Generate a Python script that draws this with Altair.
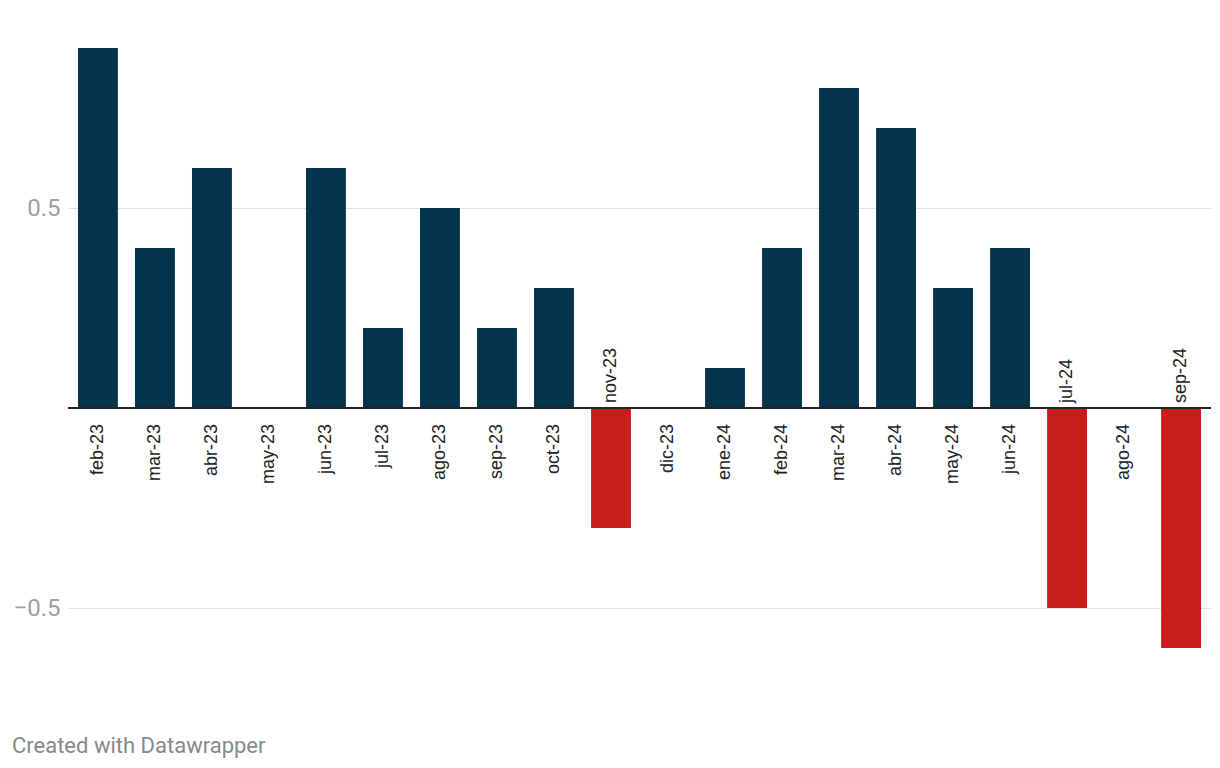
import altair as alt
import pandas as pd

months = ["feb-23", "mar-23", "abr-23", "may-23", "jun-23", "jul-23", "ago-23", "sep-23",
          "oct-23", "nov-23", "dic-23", "ene-24", "feb-24", "mar-24", "abr-24", "may-24",
          "jun-24", "jul-24", "ago-24", "sep-24"]
values = [0.9, 0.4, 0.6, 0.0, 0.6, 0.2, 0.5, 0.2, 0.3, -0.3, 0.0, 0.1, 0.4, 0.8, 0.7,
          0.3, 0.4, -0.5, 0.0, -0.6]
y_ticks = [-0.5, 0.5]

df = pd.DataFrame({"mes": months, "valor": values})

NAVY = "#04334b"
RED = "#c71e1d"
FONT = "Roboto"
LABEL_FONT = "Liberation Sans"

x_enc = alt.X("mes:N", sort=months, axis=None,
              scale=alt.Scale(paddingInner=0.3, paddingOuter=0.175))
y_scale = alt.Scale(domain=[-0.6, 0.9], nice=False, zero=False)

base = alt.Chart(df)

bars = base.mark_bar().encode(
    x=x_enc,
    y=alt.Y("valor:Q", scale=y_scale,
            axis=alt.Axis(values=y_ticks, title=None, ticks=False, domain=False,
                          grid=True, gridColor="#e0e0e0", gridWidth=1,
                          labelColor="#a0a0a0", labelFont=FONT, labelFontSize=24,
                          labelPadding=8,
                          labelExpr="datum.value < 0 ? '\u2212' + format(-datum.value, '.1f') : format(datum.value, '.1f')")),
    color=alt.condition(alt.datum.valor < 0, alt.value(RED), alt.value(NAVY)),
)

zero = alt.Chart(pd.DataFrame({"z": [0]})).mark_rule(color="#222222", strokeWidth=2).encode(
    y=alt.Y("z:Q", scale=y_scale)
)

pos_labels = base.transform_filter(alt.datum.valor >= 0).transform_calculate(
    ly="-0.04"
).mark_text(angle=270, align="right", baseline="middle", font=LABEL_FONT, fontSize=18,
            color="#222222").encode(
    x=x_enc,
    y=alt.Y("ly:Q", scale=y_scale),
    text="mes:N",
)

neg_labels = base.transform_filter(alt.datum.valor < 0).transform_calculate(
    ly="0.0125"
).mark_text(angle=270, align="left", baseline="middle", font=LABEL_FONT, fontSize=18,
            color="#222222").encode(
    x=x_enc,
    y=alt.Y("ly:Q", scale=y_scale),
    text="mes:N",
)

chart = alt.layer(bars, zero, pos_labels, neg_labels).properties(
    width=1143,
    height=600,
    autosize=alt.AutoSizeParams(type="none"),
    padding={"left": 60, "top": 40, "right": 0, "bottom": 110},
    title=alt.TitleParams(
        "Created with Datawrapper", orient="bottom", anchor="start", frame="bounds",
        font=FONT, fontSize=22, fontWeight="normal", color="#888888", offset=110,
        baseline="bottom", dx=-1,
    ),
).configure(background="white").configure_view(strokeWidth=0, stroke=None)

chart.save("out.html", embed_options={"renderer": "svg", "actions": False})
